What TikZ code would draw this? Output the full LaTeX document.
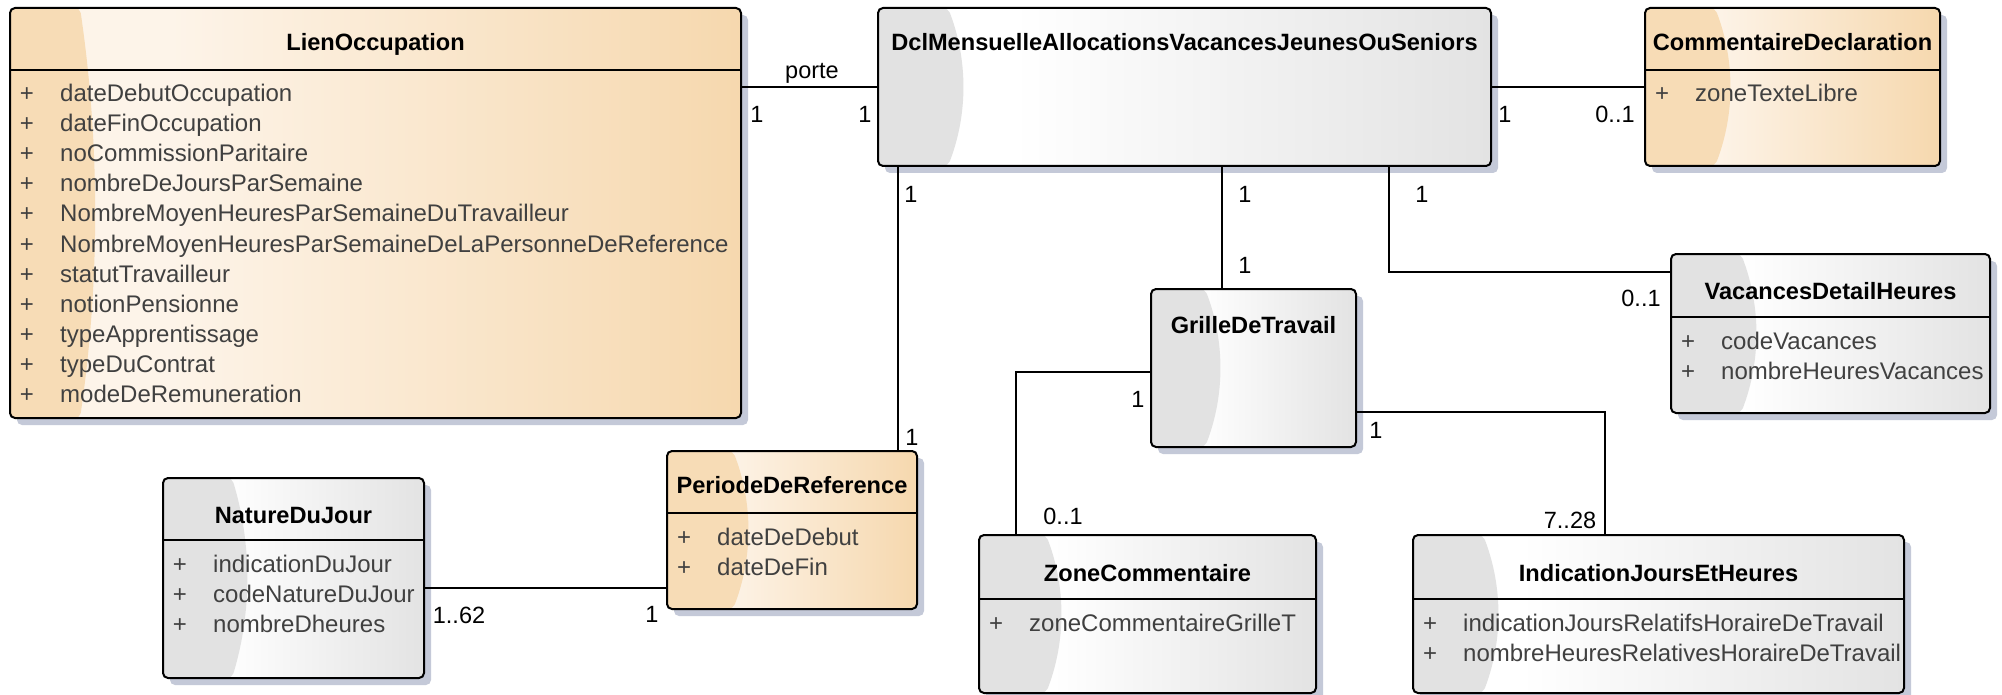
\documentclass[tikz,border=0pt]{standalone}
\usepackage{fontspec}
\setmainfont{Liberation Sans}
\usetikzlibrary{calc}
\definecolor{peach}{RGB}{246,216,174}
\definecolor{peachL}{RGB}{247,220,182}
\definecolor{peachH}{RGB}{253,244,233}
\definecolor{grayR}{RGB}{227,227,227}
\definecolor{grayL}{RGB}{226,226,226}
\definecolor{grayH}{RGB}{255,255,255}
\definecolor{shadowc}{RGB}{196,201,216}
\definecolor{attrc}{RGB}{64,64,64}
\pgfdeclarehorizontalshading{peachsh}{100bp}{color(0bp)=(peachH); color(25bp)=(peachH); color(36bp)=(peachH); color(75bp)=(peach); color(100bp)=(peach)}
\pgfdeclarehorizontalshading{graysh}{100bp}{color(0bp)=(grayH); color(25bp)=(grayH); color(36bp)=(grayH); color(75bp)=(grayR); color(100bp)=(grayR)}
\newcommand\lobe[2]{\fill[#1] (path picture bounding box.north west) -- ([xshift=#2pt]path picture bounding box.north west) .. controls ([xshift=#2pt+20pt]$(path picture bounding box.north west)!0.33!(path picture bounding box.south west)$) and ([xshift=#2pt+20pt]$(path picture bounding box.north west)!0.67!(path picture bounding box.south west)$) .. ([xshift=#2pt]path picture bounding box.south west) -- (path picture bounding box.south west) -- cycle;}
\tikzset{
  cls/.style={rectangle, draw, line width=2pt, rounded corners=5pt, inner sep=0pt, outer sep=0pt, anchor=north west},
  warm/.style={path picture={\shade[shading=peachsh] (path picture bounding box.south west) rectangle (path picture bounding box.north east); \lobe{peachL}{#1}}},
  warm/.default=70,
  cool/.style={path picture={\shade[shading=graysh] (path picture bounding box.south west) rectangle (path picture bounding box.north east); \lobe{grayL}{#1}}},
  cool/.default=70,
  title/.style={font=\fontsize{23.6}{28}\selectfont\bfseries, inner sep=0pt, anchor=base},
  attr/.style={font=\fontsize{24}{28}\selectfont, text=attrc, inner sep=0pt, anchor=base west},
  plus/.style={font=\fontsize{24}{28}\selectfont, text=attrc, inner sep=0pt, anchor=base},
  mult/.style={font=\fontsize{23.5}{28}\selectfont, inner sep=0pt, anchor=base},
  conn/.style={line width=1.7pt},
  sepl/.style={line width=2pt}
}
% name, x, y, w, h, fill style
\newcommand\umlbox[6]{%
  \fill[shadowc, rounded corners=5pt] (#2+7,#3+7) rectangle (#2+#4+7,#3+#5+7);
  \node[cls, #6, minimum width=#4pt, minimum height=#5pt] (#1) at (#2,#3) {};
}
% name, title baseline offset, title
\newcommand\umltitle[3]{\node[title] (#1-t) at ([yshift=-#2pt]#1.north) {#3};}
% name, separator offset
\newcommand\umlsep[2]{\draw[sepl] ([yshift=-#2pt]#1.north west) -- ([yshift=-#2pt]#1.north east);}
% name, separator offset, attribute list
\newcommand\umlattrs[3]{%
  \foreach \a [count=\i] in {#3} {
    \pgfmathsetmacro\yy{#2+32+30*(\i-1)}
    \node[plus] (#1-p\i) at ([shift={(17pt,-\yy pt)}]#1.north west) {+};
    \node[attr] (#1-a\i) at ([shift={(50pt,-\yy pt)}]#1.north west) {\a};
  }
}
\begin{document}
\begin{tikzpicture}[x=1pt,y=-1pt]
\useasboundingbox (0,0) rectangle (2002,695);
\fill[white] (0,0) rectangle (2002,695);

% boxes
\umlbox{lien}{10}{8}{731}{410}{warm}
\umlbox{dcl}{878}{8}{613}{158}{cool}
\umlbox{comm}{1645}{8}{295}{158}{warm}
\umlbox{vac}{1671}{254}{319}{159}{cool}
\umlbox{grille}{1151}{289}{205}{158}{cool=54}
\umlbox{per}{667}{451}{250}{158}{warm=66}
\umlbox{nat}{163}{478}{261}{200}{cool=69}
\umlbox{zone}{979}{535}{337}{158}{cool=67}
\umlbox{ind}{1413}{535}{491}{158}{cool}

% separators
\umlsep{lien}{62}
\umlsep{comm}{62}
\umlsep{vac}{63}
\umlsep{per}{62}
\umlsep{nat}{62}
\umlsep{zone}{64}
\umlsep{ind}{64}

% titles
\umltitle{lien}{43}{LienOccupation}
\umltitle{dcl}{43}{DclMensuelleAllocationsVacancesJeunesOuSeniors}
\umltitle{comm}{43}{CommentaireDeclaration}
\umltitle{vac}{45}{VacancesDetailHeures}
\umltitle{grille}{44}{GrilleDeTravail}
\umltitle{per}{42}{PeriodeDeReference}
\umltitle{nat}{45}{NatureDuJour}
\umltitle{zone}{46}{ZoneCommentaire}
\umltitle{ind}{46}{IndicationJoursEtHeures}

% attributes
\umlattrs{lien}{62}{dateDebutOccupation,dateFinOccupation,noCommissionParitaire,nombreDeJoursParSemaine,NombreMoyenHeuresParSemaineDuTravailleur,NombreMoyenHeuresParSemaineDeLaPersonneDeReference,statutTravailleur,notionPensionne,typeApprentissage,typeDuContrat,modeDeRemuneration}
\umlattrs{comm}{62}{zoneTexteLibre}
\umlattrs{vac}{63}{codeVacances,nombreHeuresVacances}
\umlattrs{per}{62}{dateDeDebut,dateDeFin}
\umlattrs{nat}{62}{indicationDuJour,codeNatureDuJour,nombreDheures}
\umlattrs{zone}{64}{zoneCommentaireGrilleT}
\umlattrs{ind}{64}{indicationJoursRelatifsHoraireDeTravail,nombreHeuresRelativesHoraireDeTravail}

% connectors
\draw[conn] (dcl.west) -- (dcl.west -| lien.east);
\draw[conn] (dcl.east) -- (comm.west);
\draw[conn] ([xshift=20pt]dcl.south west) coordinate (c1) -- (c1 |- per.north);
\draw[conn] ([xshift=71pt]grille.north west) coordinate (c2) -- (c2 |- dcl.south);
\draw[conn] ([yshift=-18pt]vac.north west) -| ([xshift=-102pt]dcl.south east);
\draw[conn] ([yshift=-83pt]grille.north west) -| ([xshift=37pt]zone.north west);
\draw[conn] ([yshift=-123pt]grille.north east) -| ([xshift=192pt]ind.north west);
\draw[conn] ([yshift=-137pt]per.north west) coordinate (c3) -- (c3 -| nat.east);

% labels
\node[mult] (l-porte) at (812,79) {porte};
\node[mult] (l1) at (757,123) {1};
\node[mult] (l2) at (865,123) {1};
\node[mult] (l3) at (1505,123) {1};
\node[mult] (l4) at (1615,123) {0..1};
\node[mult] (l5) at (911,203) {1};
\node[mult] (l6) at (912,445) {1};
\node[mult] (l7) at (1245,203) {1};
\node[mult] (l8) at (1245,273) {1};
\node[mult] (l9) at (1422,203) {1};
\node[mult] (l10) at (1641,306) {0..1};
\node[mult] (l11) at (1138,407) {1};
\node[mult] (l12) at (1063,524) {0..1};
\node[mult] (l13) at (1376,438) {1};
\node[mult] (l14) at (1570,528) {7..28};
\node[mult] (l15) at (459,623) {1..62};
\node[mult] (l16) at (652,622) {1};
\end{tikzpicture}
\end{document}
